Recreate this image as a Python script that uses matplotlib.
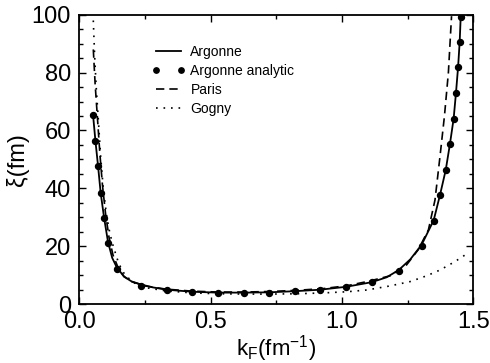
import matplotlib
matplotlib.use("Agg")
import matplotlib.pyplot as plt
from matplotlib.ticker import MultipleLocator

plt.rcParams['font.family'] = ['Liberation Sans', 'DejaVu Sans']
plt.rcParams['mathtext.fontset'] = 'custom'
plt.rcParams['mathtext.rm'] = 'Liberation Sans'

# Argonne (solid line)
argonne_k = [0.052, 0.061, 0.071, 0.081, 0.094, 0.109, 0.125, 0.142, 0.17, 0.20, 0.235, 0.28,
             0.333, 0.43, 0.527, 0.626, 0.723, 0.821, 0.916, 1.015, 1.113, 1.17, 1.216, 1.26,
             1.303, 1.349, 1.373, 1.395, 1.411, 1.425, 1.434, 1.442, 1.448, 1.452]
argonne_xi = [65.4, 56.5, 47.8, 38.5, 29.9, 21.5, 16.0, 12.8, 9.5, 7.8, 6.8, 5.8,
              5.0, 4.3, 4.0, 4.0, 4.1, 4.5, 5.0, 6.0, 7.6, 9.3, 11.8, 15.5,
              20.5, 29.0, 37.7, 46.4, 55.4, 64.1, 73.1, 82.0, 90.7, 99.5]

# Argonne analytic (points)
analytic_k = [0.052, 0.061, 0.071, 0.081, 0.094, 0.109, 0.142, 0.235, 0.333, 0.430, 0.527,
              0.626, 0.723, 0.821, 0.916, 1.015, 1.113, 1.216, 1.303, 1.349, 1.373, 1.395,
              1.411, 1.425, 1.434, 1.442, 1.448, 1.452]
analytic_xi = [65.4, 56.5, 47.8, 38.5, 29.9, 21.0, 12.2, 6.3, 4.8, 4.2, 3.8,
               3.9, 3.9, 4.5, 4.8, 5.9, 7.5, 11.6, 20.1, 28.9, 37.7, 46.4,
               55.4, 64.1, 73.1, 82.0, 90.7, 99.3]

# Paris (dashed)
paris_k = [0.053, 0.060, 0.069, 0.078, 0.088, 0.100, 0.113, 0.128, 0.148, 0.17, 0.20, 0.25,
           0.33, 0.43, 0.53, 0.63, 0.73, 0.83, 0.93, 1.02, 1.10, 1.183, 1.246, 1.29,
           1.329, 1.354, 1.373, 1.39, 1.405, 1.417]
paris_xi = [88, 76, 64, 52, 41, 31, 23, 17, 12.5, 9.6, 7.8, 6.3,
            5.2, 4.5, 4.2, 4.2, 4.4, 4.8, 5.4, 6.4, 7.9, 9.8, 13.6, 18.8,
            25.7, 36, 51, 65, 80, 99.5]

# Gogny (dotted)
gogny_k = [0.053, 0.058, 0.064, 0.072, 0.081, 0.091, 0.103, 0.116, 0.129, 0.15, 0.174, 0.21,
           0.26, 0.33, 0.43, 0.53, 0.63, 0.73, 0.83, 0.93, 1.02, 1.094, 1.182, 1.259,
           1.322, 1.373, 1.418, 1.456, 1.48]
gogny_xi = [98, 86, 75, 64, 51, 40, 31, 24.5, 20, 14, 10, 7.3,
            5.6, 4.6, 3.9, 3.6, 3.5, 3.5, 3.6, 3.9, 4.3, 4.9, 6.3, 7.8,
            9.8, 11.8, 14.1, 16.2, 17.8]

fig = plt.figure(figsize=(4.9, 3.63), dpi=100)
ax = fig.add_axes([0.162, 0.162, 0.804, 0.7975])

ax.plot(argonne_k, argonne_xi, color='black', lw=1.3, label='Argonne')
ax.plot(analytic_k, analytic_xi, linestyle='none', marker='o', markersize=4.3,
        color='black', label='Argonne analytic')
ax.plot(paris_k, paris_xi, color='black', lw=1.2, linestyle=(0, (5, 3)), label='Paris')
ax.plot(gogny_k, gogny_xi, color='black', lw=1.2, linestyle=(0, (1, 3.5)), label='Gogny')

ax.set_xlim(0, 1.5)
ax.set_ylim(0, 100)
ax.xaxis.set_major_locator(MultipleLocator(0.5))
ax.xaxis.set_minor_locator(MultipleLocator(0.25))
ax.yaxis.set_major_locator(MultipleLocator(20))
ax.yaxis.set_minor_locator(MultipleLocator(5))
ax.tick_params(which='both', direction='in', top=True, right=True, width=1.0, labelsize=17)
ax.tick_params(which='major', length=5)
ax.tick_params(which='minor', length=3)
ax.tick_params(axis='y', pad=6)
ax.tick_params(axis='x', pad=5)
for s in ax.spines.values():
    s.set_linewidth(1.3)

ax.set_xlabel(r'k$_\mathregular{F}$(fm$^\mathregular{-1}$)', fontsize=16, labelpad=0)
ax.set_ylabel('ξ(fm)', fontsize=17, labelpad=2)

ax.legend(loc='upper left', bbox_to_anchor=(0.185, 0.895), frameon=False, fontsize=10,
          handlelength=2.4, handletextpad=0.35, labelspacing=0.35, borderpad=0,
          borderaxespad=0, numpoints=2, markerscale=0.9)

fig.savefig('out.png', dpi=100)
